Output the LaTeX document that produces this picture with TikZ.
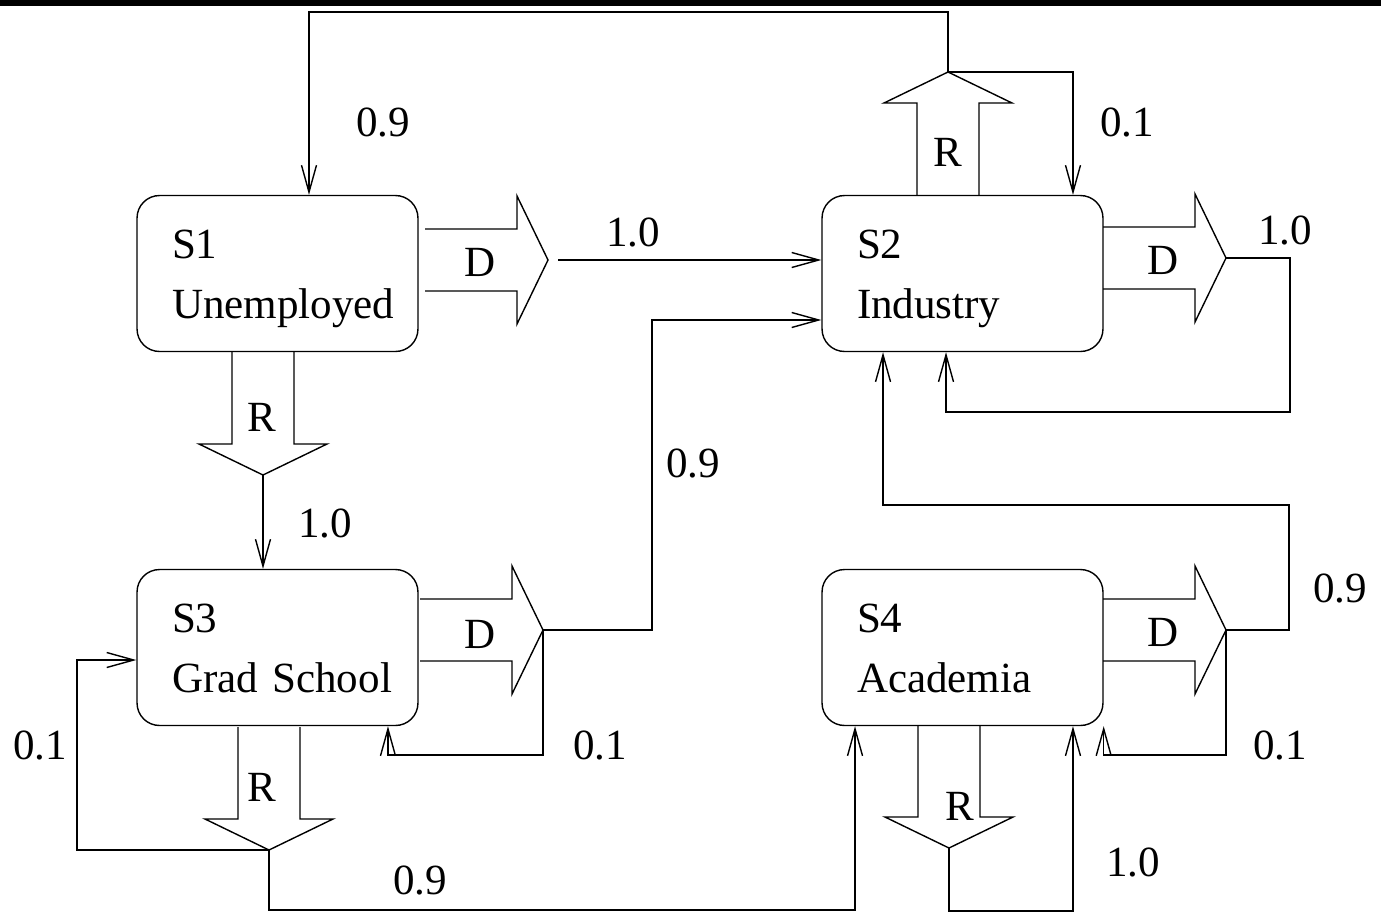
\documentclass[tikz,border=0pt]{standalone}
\usepackage{fontspec}
\setmainfont{Liberation Serif}
\usetikzlibrary{arrows.meta}

\begin{document}
\begin{tikzpicture}[x=0.02cm,y=-0.02cm,
                    thick,font=\fontsize{24.5}{34}\selectfont,
                    state node/.style={rectangle,rounded corners=0.45cm,draw,
                      minimum width=5.62cm,minimum height=3.12cm,
                      text width=4.22cm,inner xsep=0.7cm,align=left,
                      text depth=33pt},
                    conn/.style={-{Straight Barb[length=0.54cm,width=0.3cm]}},
                    block arrow/.pic={
                      \draw (0,-31) -- (92,-31) -- (92,-64) -- (123,0)
                            -- (92,64) -- (92,31) -- (0,31);
                      \coordinate (-tip) at (123,0);}
                   ]
  \useasboundingbox (0,0) rectangle (1381,913);
  \fill (0,0) rectangle (1381,6);

  \node[state node] (s1) at (277.5,273.5) {S1\\Unemployed};
  \node[state node] (s2) at (962.5,273.5) {S2\\Industry};
  \node[state node] (s3) at (277.5,647.5) {S3\\Grad~School};
  \node[state node] (s4) at (962.5,647.5) {S4\\Academia};

  % actions D and R
  \pic (d1) at (425,260) {block arrow};
  \pic (d2) at (1103,258) {block arrow};
  \pic (d3) at (420,630) {block arrow};
  \pic (d4) at (1103,630) {block arrow};
  \pic[rotate=-90] (r1) at (263,352) {block arrow};
  \pic[rotate=90] (r2) at (948,195) {block arrow};
  \pic[rotate=-90] (r3) at (269,727) {block arrow};
  \pic[rotate=-90] (r4) at (949,725) {block arrow};
  \node (dl1) at (480,262) {D};
  \node (dl2) at (1163,260) {D};
  \node (dl3) at (480,634) {D};
  \node (dl4) at (1163,632) {D};
  \node (rl1) at (262,417) {R};
  \node (rl2) at (948,152) {R};
  \node (rl3) at (262,787) {R};
  \node (rl4) at (960,806) {R};

  \draw[conn] (r2-tip) -- ++(0,-60) -| ([xshift=0.63cm]s1.north);
  \draw[conn] (r2-tip) -| ([xshift=2.21cm]s2.north);
  \draw[conn] ([xshift=0.2cm]d1-tip) -- (d1-tip -| s2.west);
  \draw[conn] (r1-tip) -- (r1-tip |- s3.north);
  \draw[conn] (d2-tip) -- ++(64,0) -- ++(0,154) -| ([xshift=-0.33cm]s2.south);
  \draw[conn] (d3-tip) -- ++(109,0) |- ([yshift=-0.93cm]s2.west);
  \draw[conn] (d3-tip) -- ++(0,125) -| ([xshift=2.21cm]s3.south);
  \draw[conn] (r3-tip) -- ++(-192,0) |- ([yshift=-0.25cm]s3.west);
  \draw[conn] (r3-tip) -- ++(0,60) -| ([xshift=-2.15cm]s4.south);
  \draw[conn] (d4-tip) -- ++(63,0) -- ++(0,-125) -| ([xshift=-1.59cm]s2.south);
  \draw[conn] (d4-tip) -- ++(0,125) -| (s4.south east);
  \draw[conn] (r4-tip) -- ++(0,63) -| ([xshift=2.21cm]s4.south);

  % transition probabilities
  \node (p1) at (383,122) {0.9};
  \node (p2) at (1127,122) {0.1};
  \node (p3) at (633,232) {1.0};
  \node (p4) at (1285,230) {1.0};
  \node (p5) at (325,523) {1.0};
  \node (p6) at (693,463) {0.9};
  \node (p7) at (1340,588) {0.9};
  \node (p8) at (600,745) {0.1};
  \node (p9) at (40,745) {0.1};
  \node (p10) at (420,880) {0.9};
  \node (p11) at (1280,745) {0.1};
  \node (p12) at (1133,862) {1.0};
\end{tikzpicture}
\end{document}
